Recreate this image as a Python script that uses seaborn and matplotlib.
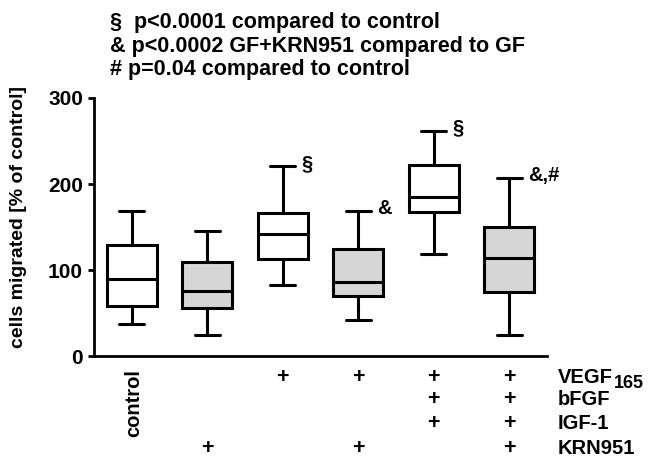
import matplotlib
matplotlib.use("Agg")
import matplotlib.pyplot as plt
import seaborn as sns
import pandas as pd

# ---- data ----
groups = ["control", "KRN951", "VEGF", "VEGF+KRN951", "GF", "GF+KRN951"]
whisker_low = [37, 24, 82, 42, 119, 24]
q1 = [58, 56, 113, 70, 167, 74]
median = [90, 76, 142, 86, 185, 114]
q3 = [129, 109, 166, 124, 222, 150]
whisker_high = [169, 145, 221, 169, 262, 207]
box_colors = ["white", "#d6d6d6", "white", "#d6d6d6", "white", "#d6d6d6"]
significance = ["", "", "§", "&", "§", "&,#"]

row_labels = ["VEGF", "bFGF", "IGF-1", "KRN951"]
vegf = [0, 0, 1, 1, 1, 1]
bfgf = [0, 0, 0, 0, 1, 1]
igf = [0, 0, 0, 0, 1, 1]
krn = [0, 1, 0, 1, 0, 1]
rows = [vegf, bfgf, igf, krn]

header_lines = [
    "§  p<0.0001 compared to control",
    "& p<0.0002 GF+KRN951 compared to GF",
    "# p=0.04 compared to control",
]
ylabel = "cells migrated [% of control]"
yticks = [0, 100, 200, 300]

# ---- build the table: five summary points per group give exact box stats with whis=(0,100)
records = []
for g, lo, a, m, b, hi in zip(groups, whisker_low, q1, median, q3, whisker_high):
    for v in (lo, a, m, b, hi):
        records.append({"group": g, "value": v})
df = pd.DataFrame(records)

sns.set_style("ticks")
plt.rcParams["font.family"] = ["Liberation Sans", "DejaVu Sans"]
plt.rcParams["font.weight"] = "bold"
for k in ["text.color", "axes.labelcolor", "xtick.color", "ytick.color", "axes.edgecolor"]:
    plt.rcParams[k] = "black"
FS = 14.5

fig = plt.figure(figsize=(6.63, 4.58), dpi=100)
ax = fig.add_axes([94 / 663, 1 - 356 / 458, 453 / 663, 258 / 458])

sns.boxplot(data=df, x="group", y="value", hue="group", order=groups, hue_order=groups,
            palette=dict(zip(groups, box_colors)), width=0.667, linewidth=2.2,
            linecolor="black", whis=(0, 100), legend=False, ax=ax)

ax.set_xlim(-0.5, 5.5)
ax.set_ylim(0, 300)
ax.set_yticks(yticks)
ax.set_yticklabels([str(t) for t in yticks], fontsize=FS + 0.5, fontweight="bold")
ax.set_xticks([])
ax.set_xlabel("")
ax.set_ylabel("")
for s in ["top", "right"]:
    ax.spines[s].set_visible(False)
for s in ["left", "bottom"]:
    ax.spines[s].set_linewidth(2)
    ax.spines[s].set_color("black")
ax.tick_params(axis="y", width=2, length=4, direction="out", pad=4, colors="black")

# significance marks
for i, (sig, hi) in enumerate(zip(significance, whisker_high)):
    if sig:
        ax.text(i + 0.25, hi + 3, sig, ha="left", va="center", fontsize=FS,
                fontweight="bold", clip_on=False, color="black")

# treatment table below the axis
tr = ax.get_xaxis_transform()
row_y = [-0.082, -0.167, -0.260, -0.357]
for r, yy in zip(rows, row_y):
    for i, on in enumerate(r):
        if on:
            ax.text(i, yy, "+", ha="center", va="center", fontsize=FS + 1,
                    fontweight="bold", transform=tr, clip_on=False, color="black")
for lab, yy in zip(row_labels, row_y):
    t = ax.text(5.64, yy, lab, ha="left", va="center", fontsize=FS,
                fontweight="bold", transform=tr, clip_on=False, color="black")
    if lab == "VEGF":
        ax.annotate("165", xy=(1.0, 0.0), xycoords=t, xytext=(1, -4),
                    textcoords="offset points", ha="left", va="bottom",
                    fontsize=FS - 1.5, fontweight="bold", annotation_clip=False,
                    color="black")
ax.text(0.03, -0.182, "control", rotation=90, ha="center", va="center",
        fontsize=FS, fontweight="bold", transform=tr, clip_on=False, color="black")

# y label
fig.text(19 / 663, 1 - 216.5 / 458, ylabel, rotation=90, ha="center", va="center",
         fontsize=14, fontweight="bold", color="black")

# header lines
for txt, base in zip(header_lines, [28.3, 51.7, 75.0]):
    fig.text(110 / 663, 1 - base / 458, txt, ha="left", va="baseline",
             fontsize=15.5, fontweight="bold", color="black")

fig.savefig("out.png", dpi=100)
